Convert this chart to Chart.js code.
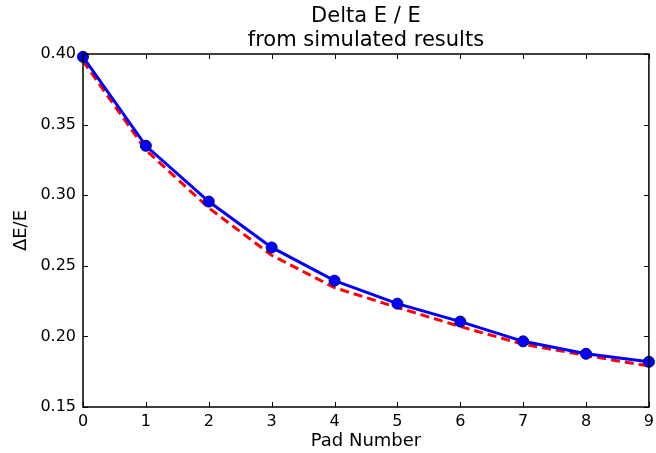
<!DOCTYPE html>
<html>
<head>
<meta charset="utf-8">
<script src="https://cdn.jsdelivr.net/npm/chart.js@4.4.0/dist/chart.umd.min.js"></script>
<style>
  html, body { margin: 0; padding: 0; background: #fff; overflow: hidden; }
  #outer { width: 656px; height: 453px; overflow: hidden; position: relative; }
  /* canvas a little wider than the window so the plot frame reaches x=654 and the "9" is cut like the original */
  #chart { position: absolute; left: 0; top: 0; }
</style>
</head>
<body>
<div id="outer"><canvas id="chart" width="659" height="453"></canvas></div>
<script>
var padNumbers = [0, 1, 2, 3, 4, 5, 6, 7, 8, 9];
var simulated = [0.398, 0.335, 0.2955, 0.263, 0.2395, 0.2232, 0.2105, 0.1965, 0.1877, 0.182];
var fitted = [0.395, 0.332, 0.291, 0.2575, 0.2345, 0.2205, 0.207, 0.1945, 0.1865, 0.179];
var yTicks = [0.15, 0.20, 0.25, 0.30, 0.35, 0.40];
var titleLines = ['Delta E / E', 'from simulated results'];
var xLabel = 'Pad Number';
var yLabel = 'ΔE/E';

var font = 'DejaVu Sans';

// matplotlib-like frame, inward ticks, title and axis labels centred on the plot area
var framePlugin = {
    id: 'frame',
    afterDatasetsDraw: function (chart) {
        var c = chart.ctx, a = chart.chartArea;
        var xs = chart.scales.x, ys = chart.scales.y;
        var cx = (a.left + a.right) / 2, cy = (a.top + a.bottom) / 2;
        c.save();
        c.strokeStyle = '#000';
        c.lineWidth = 1;
        padNumbers.forEach(function (v) {
            var px = Math.round(xs.getPixelForValue(v)) + 0.5;
            c.beginPath();
            c.moveTo(px, a.bottom); c.lineTo(px, a.bottom - 5);
            c.moveTo(px, a.top); c.lineTo(px, a.top + 5);
            c.stroke();
        });
        yTicks.forEach(function (v) {
            var py = Math.round(ys.getPixelForValue(v)) + 0.5;
            c.beginPath();
            c.moveTo(a.left, py); c.lineTo(a.left + 5, py);
            c.moveTo(a.right, py); c.lineTo(a.right - 5, py);
            c.stroke();
        });
        c.lineWidth = 1.5;
        c.strokeRect(a.left, a.top, a.right - a.left, a.bottom - a.top);

        c.fillStyle = '#000';
        c.textAlign = 'center';
        c.textBaseline = 'alphabetic';
        c.font = '21px "' + font + '"';
        c.fillText(titleLines[0], cx, 22);
        c.fillText(titleLines[1], cx, 46);
        c.font = '18px "' + font + '"';
        c.fillText(xLabel, cx, 446);
        c.translate(26, cy);
        c.rotate(-Math.PI / 2);
        c.fillText(yLabel, 0, 0);
        c.restore();
    }
};

var ctx = document.getElementById('chart');
var myChart = new Chart(ctx, {
    type: 'line',
    data: {
        datasets: [{
            label: 'simulated',
            data: padNumbers.map(function (x, i) { return {x: x, y: simulated[i]}; }),
            borderColor: '#0000ff',
            backgroundColor: '#0000ff',
            borderWidth: 3,
            pointRadius: 5.5,
            pointBorderColor: '#000080',
            pointBorderWidth: 1,
            pointBackgroundColor: '#0000ff',
            order: 1
        }, {
            label: 'fit',
            data: padNumbers.map(function (x, i) { return {x: x, y: fitted[i]}; }),
            borderColor: '#ff0000',
            borderWidth: 3,
            borderDash: [9, 5],
            pointRadius: 0,
            order: 2
        }]
    },
    plugins: [framePlugin],
    options: {
        animation: false,
        responsive: false,
        devicePixelRatio: 1,
        clip: false,
        layout: { padding: { left: 0, right: 0, top: 54, bottom: 0 } },
        plugins: {
            legend: { display: false },
            tooltip: { enabled: false },
            title: { display: false }
        },
        scales: {
            x: {
                type: 'linear',
                min: 0,
                max: 9,
                grid: { display: false, drawTicks: false },
                border: { display: false },
                ticks: {
                    stepSize: 1,
                    color: '#000',
                    padding: 5,
                    maxRotation: 0,
                    font: { family: font, size: 16 }
                },
                afterFit: function (s) { s.height = 46; }
            },
            y: {
                min: 0.15,
                max: 0.40,
                grid: { display: false, drawTicks: false },
                border: { display: false },
                ticks: {
                    stepSize: 0.05,
                    color: '#000',
                    padding: 7,
                    font: { family: font, size: 16 },
                    callback: function (v) { return v.toFixed(2); }
                },
                afterFit: function (s) { s.width = 83; }
            }
        }
    }
});
</script>
</body>
</html>
